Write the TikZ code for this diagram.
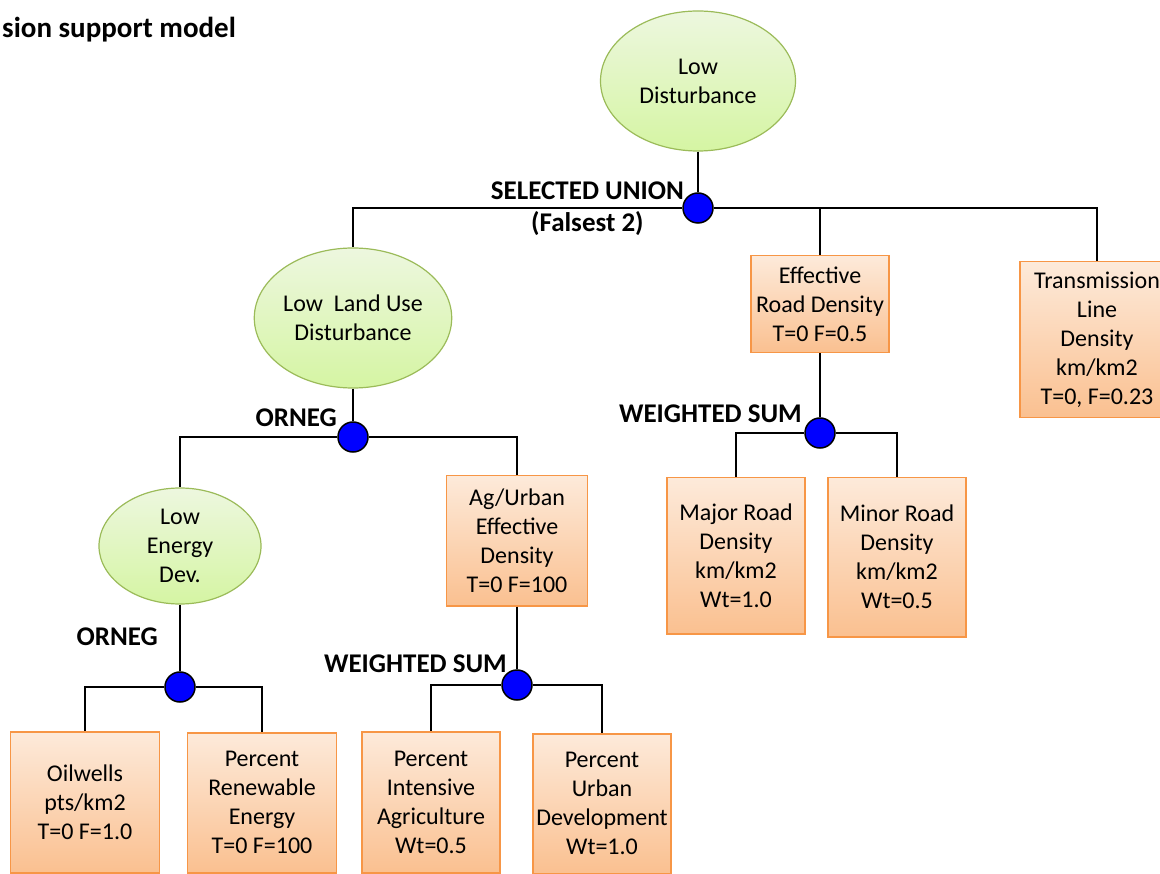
\documentclass[tikz,border=0pt]{standalone}
\usepackage{fontspec}
\setmainfont{Carlito}
\usepackage{tikz}
\usetikzlibrary{positioning,shapes.geometric}

\definecolor{goaledge}{HTML}{9BBB59}
\definecolor{goaltop}{HTML}{EDF7DF}
\definecolor{goalbot}{HTML}{D5F5A3}
\definecolor{leafedge}{HTML}{F79646}
\definecolor{leaftop}{HTML}{FDEADA}
\definecolor{leafbot}{HTML}{FAC090}

\begin{document}
\begin{tikzpicture}[
  x=1pt, y=-1pt,
  goal/.style={
    ellipse, draw=goaledge, line width=1.2pt,
    top color=goaltop, bottom color=goalbot,
    minimum width=195pt, minimum height=140pt, inner sep=0pt,
    align=center, font=\fontsize{24}{29}\selectfont
  },
  leaf/.style={
    rectangle, draw=leafedge, line width=1.5pt,
    top color=leaftop, bottom color=leafbot,
    minimum width=138pt, inner sep=2pt, anchor=north,
    align=center, font=\fontsize{24}{29}\selectfont
  },
  junc/.style={
    circle, draw, line width=1.5pt, fill=blue,
    minimum size=30pt, inner sep=0pt
  },
  oplabel/.style={inner sep=0pt, font=\fontsize{27}{31}\selectfont\bfseries},
  link/.style={line width=1.6pt}
]
\useasboundingbox (0,0) rectangle (1160,874);

\node[anchor=base west, inner sep=0pt, font=\fontsize{29}{33}\selectfont\bfseries] (title) at (2,38) {sion support model};

% Top level
\node[goal] (g0) at (698,81) {Low\\Disturbance};
\node[junc] (j0) at (698,208) {};
\node[oplabel, anchor=base east] (lblu) at (684,200) {SELECTED UNION};
\node[oplabel, below=11pt of lblu] (lblf) {(Falsest 2)};

% Second level
\node[goal] (g1) at (353,318) {Low~ Land Use\\Disturbance};
\node[leaf, minimum height=97pt] (roadeff) at (820,255) {Effective\\Road Density\\T=0 F=0.5};
\node[leaf, minimum width=154pt, minimum height=156pt] (trans) at (1097,261) {Transmission\\Line\\Density\\km/km2\\T=0, F=0.23};

% Land use branch
\node[junc] (j1) at (353,437) {};
\node[oplabel, anchor=base east] (lbl1) at (337,427) {ORNEG};
\node[goal, minimum width=162pt, minimum height=116pt] (g2) at (180,546) {Low\\Energy\\Dev.};
\node[leaf, minimum width=141pt, minimum height=130pt] (agurb) at (517,475) {Ag/Urban\\Effective\\Density\\T=0 F=100};

% Road branch
\node[junc] (j4) at (820,433) {};
\node[oplabel, anchor=base east] (lbl4) at (802,423) {WEIGHTED SUM};
\node[leaf, minimum height=156pt] (major) at (736,477) {Major Road\\Density\\km/km2\\Wt=1.0};
\node[leaf, minimum height=159pt] (minor) at (897,477) {Minor Road\\Density\\km/km2\\Wt=0.5};

% Energy branch
\node[junc] (j2) at (180,687) {};
\node[oplabel, anchor=base east] (lbl2) at (158,645) {ORNEG};
\node[leaf, minimum width=149pt, minimum height=141pt] (oil) at (85,731) {Oilwells\\pts/km2\\T=0 F=1.0};
\node[leaf, minimum width=149pt, minimum height=140pt] (renew) at (262,732) {Percent\\Renewable\\Energy\\T=0 F=100};

% Ag/Urban branch
\node[junc] (j3) at (517,685) {};
\node[oplabel, anchor=base east] (lbl3) at (507,672) {WEIGHTED SUM};
\node[leaf, minimum height=141pt] (agri) at (431,731) {Percent\\Intensive\\Agriculture\\Wt=0.5};
\node[leaf, minimum height=140pt] (urban) at (602,733) {Percent\\Urban\\Development\\Wt=1.0};

\draw[link] (g0.south) -- (j0.north);
\draw[link] (j0.west) -| (g1.north);
\draw[link] (j0.east) -| (roadeff.north);
\draw[link] (j0.east) -| (trans.north);
\draw[link] (g1.south) -- (j1.north);
\draw[link] (j1.west) -| (g2.north);
\draw[link] (j1.east) -| (agurb.north);
\draw[link] (g2.south) -- (j2.north);
\draw[link] (j2.west) -| (oil.north);
\draw[link] (j2.east) -| (renew.north);
\draw[link] (agurb.south) -- (j3.north);
\draw[link] (j3.west) -| (agri.north);
\draw[link] (j3.east) -| (urban.north);
\draw[link, line width=2.6pt] (roadeff.south) -- (j4.north);
\draw[link] (j4.west) -| (major.north);
\draw[link] (j4.east) -| (minor.north);
\end{tikzpicture}
\end{document}
